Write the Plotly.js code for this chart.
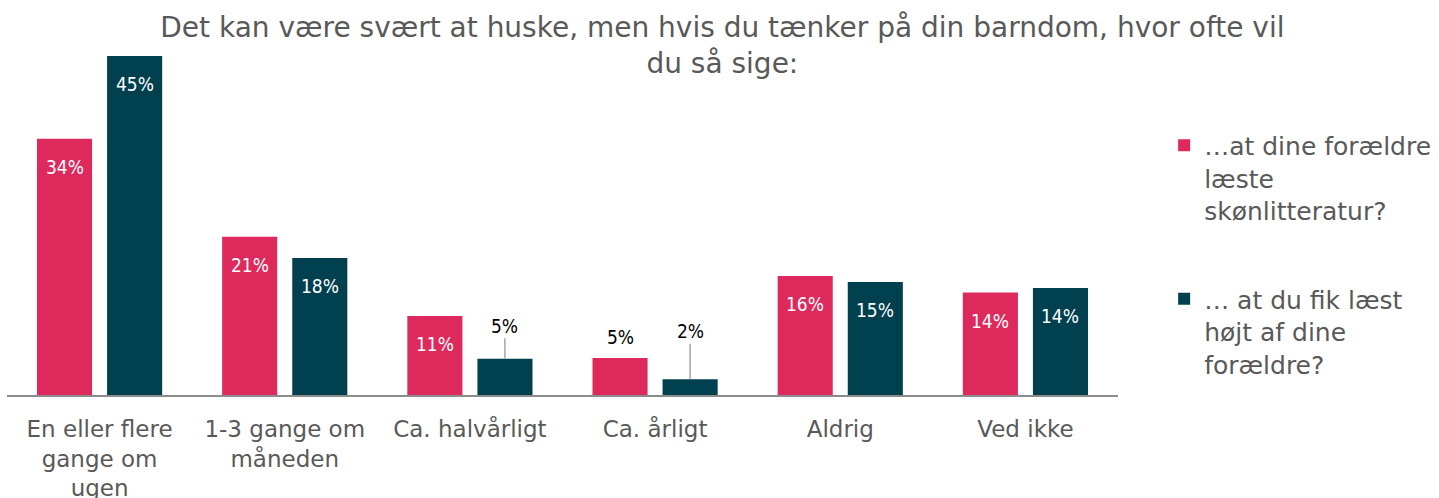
<!DOCTYPE html>
<html>
<head>
<meta charset="utf-8">
<script src="https://cdn.plot.ly/plotly-3.0.1.min.js"></script>
<style>html,body{margin:0;padding:0;background:#fff;}#chart{width:1439px;height:498px;}</style>
</head>
<body>
<div id="chart"></div>
<script>
const categories = ["En eller flere<br>gange om<br>ugen", "1-3 gange om<br>måneden", "Ca. halvårligt", "Ca. årligt", "Aldrig", "Ved ikke"];
const seriesNames = ["…at dine forældre<br>læste<br>skønlitteratur?", "… at du fik læst<br>højt af dine<br>forældre?"];
const parentsRead = [34, 21, 10.5, 4.9, 15.8, 13.6];
const readAloud = [45, 18.2, 4.8, 2.1, 15, 14.2];
const parentsLabels = ["34%", "21%", "11%", "5%", "16%", "14%"];
const aloudLabels = ["45%", "18%", "5%", "2%", "15%", "14%"];

const PINK = "#DE295D";
const TEAL = "#01404F";
const GRAY = "#595959";
const FONT = "DejaVu Sans, Verdana, sans-serif";
const NARROW = "DejaVu Sans Condensed, DejaVu Sans, sans-serif";

const traces = [
  {type: "bar", x: categories, y: parentsRead, name: seriesNames[0], marker: {color: PINK, line: {width: 0}}, legendgroup: "a", hoverinfo: "skip"},
  {type: "bar", x: categories, y: readAloud, name: seriesNames[1], marker: {color: TEAL, line: {width: 0}}, legendgroup: "b", hoverinfo: "skip"}
];

const OFF = 0.189;
const annotations = [];
function addLabels(vals, labels, sign) {
  vals.forEach((v, i) => {
    const x = i + sign * OFF;
    if (v >= 8) {
      annotations.push({x: x, y: v, xref: "x", yref: "y", text: labels[i], showarrow: false,
        yanchor: "middle", yshift: -28, font: {family: NARROW, size: 19, color: "#ffffff"}});
    } else if (sign < 0) {
      annotations.push({x: x, y: v, xref: "x", yref: "y", text: labels[i], showarrow: false,
        yanchor: "middle", yshift: 21, font: {family: NARROW, size: 19, color: "#000000"}});
    } else {
      const lift = v > 3 ? -33 : -48;
      annotations.push({x: x, y: v, xref: "x", yref: "y", text: labels[i], showarrow: true,
        arrowhead: 0, arrowwidth: 1.5, arrowcolor: "#A6A6A6", ax: 0, ay: lift, standoff: 0,
        font: {family: NARROW, size: 19, color: "#000000"}});
    }
  });
}
addLabels(parentsRead, parentsLabels, -1);
addLabels(readAloud, aloudLabels, 1);

const layout = {
  width: 1439, height: 498,
  margin: {l: 7, r: 321, t: 56, b: 103, pad: 0},
  paper_bgcolor: "#ffffff", plot_bgcolor: "#ffffff",
  barmode: "group", bargap: 0.243, bargroupgap: 0.214,
  title: {text: "Det kan være svært at huske, men hvis du tænker på din barndom, hvor ofte vil<br>du så sige:",
    font: {family: FONT, size: 28, color: GRAY}, xref: "container", x: 0.502, xanchor: "center",
    yref: "container", y: 0.926, yanchor: "top"},
  xaxis: {type: "category", showgrid: false, zeroline: false, showline: true, linecolor: "#8C8C8C", linewidth: 2,
    ticks: "", tickfont: {family: FONT, size: 23, color: GRAY}, ticklabelstandoff: 12, fixedrange: true},
  yaxis: {range: [0, 45], showgrid: false, zeroline: false, showline: false, showticklabels: false, ticks: "", fixedrange: true},
  showlegend: true,
  legend: {xref: "container", yref: "container", x: 0.809, y: 0.754, xanchor: "left", yanchor: "top",
    font: {family: FONT, size: 25, color: GRAY}, valign: "top", traceorder: "grouped", tracegroupgap: 53,
    maxheight: 480,
    bgcolor: "rgba(0,0,0,0)", borderwidth: 0, itemclick: false, itemdoubleclick: false},
  annotations: annotations
};

Plotly.newPlot("chart", traces, layout, {staticPlot: true, displayModeBar: false});
</script>
</body>
</html>
